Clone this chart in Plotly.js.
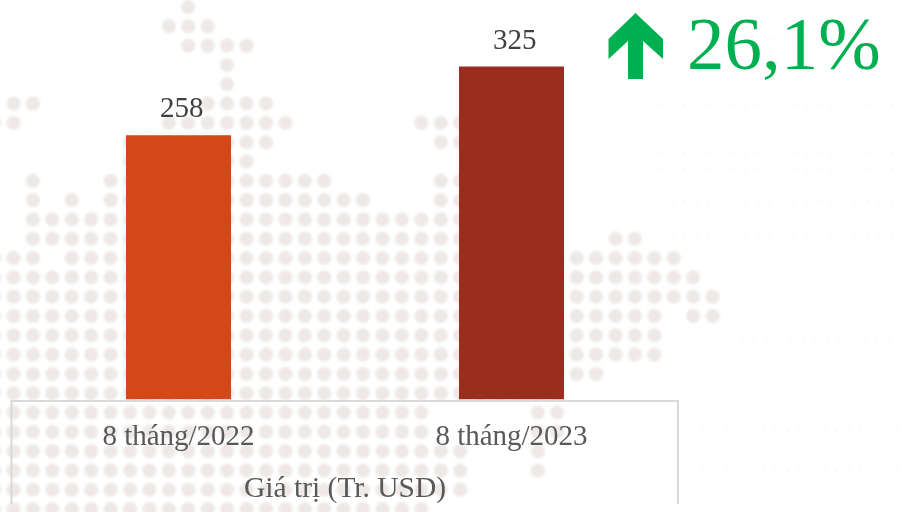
<!DOCTYPE html>
<html>
<head>
<meta charset="utf-8">
<script src="https://cdn.plot.ly/plotly-3.0.1.min.js"></script>
<style>
html,body{margin:0;padding:0;background:#fff;overflow:hidden}
#chart .xy .scatterlayer{filter:blur(0.9px)}
</style>
</head>
<body>
<div id="chart" style="width:910px;height:512px"></div>
<script>
const categories = ['8 tháng/2022', '8 tháng/2023'];
const values = [258, 325];
const barColors = ['#D34817', '#9B2D1F'];
const axisTitle = 'Giá trị (Tr. USD)';
const changeLabel = '26,1%';

// decorative dotted world map: one list of [firstColumn, lastColumn] runs per row
const mapRows = [
  [[9,9]], [[8,10]], [[9,12]], [[11,11]], [[11,11]],
  [[0,1],[10,13]], [[-1,0],[8,14],[21,23]], [[6,13],[22,23]], [[6,12]],
  [[1,1],[5,16],[22,23]], [[1,1],[3,3],[5,18],[22,23]], [[1,23]],
  [[1,23],[31,32]], [[-1,1],[3,34]], [[-1,35]], [[-1,36]],
  [[-1,33],[35,36]], [[-1,33]], [[-1,33]], [[-1,30]], [[-1,28]],
  [[-1,21],[27,28]], [[-1,21],[27,28]], [[-1,23],[27,27]], [[-1,23],[27,27]],
  [[-1,23]], [[-1,21]]
];
const faintRows = [[24,610,900],[39,700,900],[56,600,900],[88,660,900],[105,660,900],[153,660,900],[169,660,900],[202,660,900],[235,660,900],[280,730,900],[340,730,900],[430,690,900],[470,690,900]];

const dotX = [], dotY = [];
mapRows.forEach((runs, r) => runs.forEach(([a, b]) => {
  for (let c = a; c <= b; c++) { dotX.push(13.5 + 19.42 * c); dotY.push(7 + 19.31 * r); }
}));
const faintX = [], faintY = [];
faintRows.forEach(([y, a, b]) => { for (let x = a; x <= b; x += 12.2) { faintX.push(x); faintY.push(y); } });

const traces = [
  { type: 'scatter', mode: 'markers', x: faintX, y: faintY, xaxis: 'x', yaxis: 'y', hoverinfo: 'skip',
    marker: { symbol: 'square', size: 3, color: '#f9f9f9' } },
  { type: 'scatter', mode: 'markers', x: dotX, y: dotY, xaxis: 'x', yaxis: 'y', hoverinfo: 'skip',
    marker: { symbol: 'circle', size: 13, color: '#eee9e7', line: { width: 2, color: 'rgba(238,233,231,0.5)' } } },
  { type: 'bar', x: categories, y: values, xaxis: 'x2', yaxis: 'y2', width: 105 / 333,
    marker: { color: barColors, line: { width: 0 } }, hoverinfo: 'x+y' }
];

const hidden = { visible: false, fixedrange: true };
const serif = '"Liberation Serif", "Times New Roman", serif';
const layout = {
  width: 910, height: 512, showlegend: false,
  margin: { l: 0, r: 0, t: 0, b: 0, pad: 0 },
  paper_bgcolor: '#ffffff', plot_bgcolor: 'rgba(0,0,0,0)',
  xaxis: Object.assign({ domain: [0, 1], range: [0, 910] }, hidden),
  yaxis: Object.assign({ domain: [0, 1], range: [512, 0] }, hidden),
  xaxis2: {
    anchor: 'y2', domain: [12 / 910, 678 / 910], type: 'category', range: [-0.5, 1.5],
    showgrid: false, zeroline: false, showline: true, linecolor: '#d9d9d9', linewidth: 2,
    ticks: '', ticklabelstandoff: 9, tickfont: { family: serif, size: 29, color: '#595959' }, automargin: false
  },
  yaxis2: {
    anchor: 'x2', domain: [1 - 399.5 / 512, 1], range: [0, 399.5 / 1.0246],
    visible: false, fixedrange: true
  },
  shapes: [
    { type: 'line', xref: 'x', yref: 'y', x0: 11.5, x1: 11.5, y0: 400, y1: 504, layer: 'above', line: { color: '#d9d9d9', width: 2 } },
    { type: 'line', xref: 'x', yref: 'y', x0: 678, x1: 678, y0: 400, y1: 504, layer: 'above', line: { color: '#d9d9d9', width: 2 } },
    { type: 'path', xref: 'x', yref: 'y', layer: 'above', fillcolor: '#00B050', line: { width: 0 },
      path: 'M 635.5 13 L 663 39 L 663 59 L 643 41 L 643 79 L 628 79 L 628 41 L 608.5 59 L 608.5 39 Z' }
  ],
  annotations: [
    ...values.map((v, i) => ({
      xref: 'x2', yref: 'y2', x: categories[i], y: v, text: String(v), showarrow: false,
      yanchor: 'bottom', yshift: 10, xshift: 3.5, font: { family: serif, size: 29, color: '#404040' }
    })),
    { xref: 'x', yref: 'y', x: 344.5, y: 487, text: axisTitle, showarrow: false, yanchor: 'middle',
      font: { family: serif, size: 29.5, color: '#595959' } },
    { xref: 'x', yref: 'y', x: 784, y: 43, text: changeLabel, showarrow: false, yanchor: 'middle',
      font: { family: serif, size: 75, color: '#00B050' } }
  ]
};
Plotly.newPlot('chart', traces, layout, { displayModeBar: false, responsive: false });
</script>
</body>
</html>
